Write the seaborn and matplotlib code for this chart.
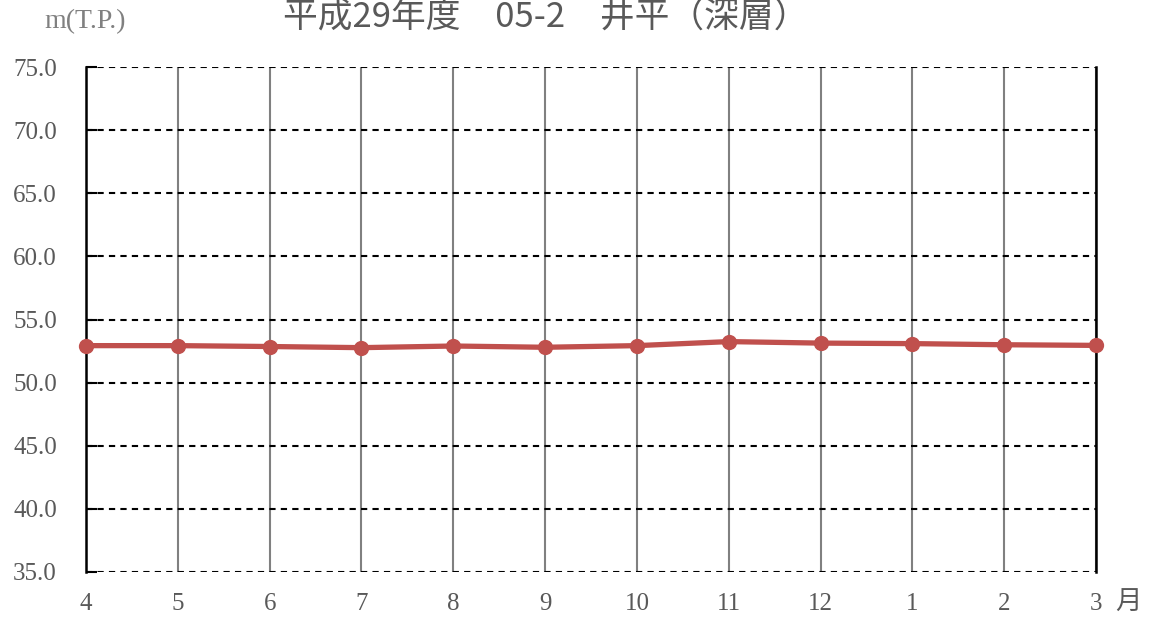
"""
平成29年度 地下水位（深層） 月別推移
"""
import matplotlib
matplotlib.use("Agg")
import matplotlib.pyplot as plt
import pandas as pd
import seaborn as sns

months = ["4", "5", "6", "7", "8", "9", "10", "11", "12", "1", "2", "3"]
levels = [52.93, 52.93, 52.86, 52.77, 52.90, 52.80, 52.93, 53.25, 53.13, 53.09, 53.00, 52.95]
y_ticks = [35.0, 40.0, 45.0, 50.0, 55.0, 60.0, 65.0, 70.0, 75.0]
title = "平成29年度　05-2　井平（深層）"

sns.set_style("white")
plt.rcParams["font.family"] = ["Liberation Serif", "Noto Sans CJK JP", "DejaVu Sans"]

df = pd.DataFrame({"pos": range(len(months)), "level": levels})

fig = plt.figure(figsize=(11.5, 6.19), dpi=100)
ax = fig.add_axes([86 / 1150, 47 / 619, 1010 / 1150, 505 / 619])

sns.lineplot(data=df, x="pos", y="level", ax=ax, color="#C0504D", linewidth=3.8,
             marker="o", markersize=11, markeredgewidth=0, zorder=5, clip_on=False)

ax.set_xlim(0, len(months) - 1)
ax.set_ylim(35, 75)
ax.set_xticks(df["pos"])
ax.set_xticklabels(months)
ax.set_yticks(y_ticks)
ax.set_yticklabels([f"{v:.1f}" for v in y_ticks])
ax.set_xlabel("")
ax.set_ylabel("")

# gridlines: solid grey verticals, dashed black horizontals
for p in df["pos"]:
    ax.axvline(p, color="#808080", linewidth=1.5, zorder=1)
for v in y_ticks:
    ax.axhline(v, color="black", linewidth=1.5, linestyle=(0, (3, 2.5)), zorder=2)

for side in ["left", "right"]:
    ax.spines[side].set_color("black")
    ax.spines[side].set_linewidth(1.8)
    ax.spines[side].set_zorder(3)
ax.spines["top"].set_visible(False)
ax.spines["bottom"].set_visible(False)

ax.tick_params(axis="y", direction="in", length=8, width=1.5, color="black",
               labelsize=18, labelcolor="#595959", pad=21, left=True)
ax.tick_params(axis="x", length=0, labelsize=18, labelcolor="#595959", pad=15)

fig.text(85 / 1150, 1 - 22 / 619, "m(T.P.)", ha="center", va="center",
         fontsize=20, color="#808080")
fig.text(1128 / 1150, 1 - 602 / 619, "月", ha="center", va="center",
         fontsize=19, color="#595959", family=["Noto Sans CJK JP", "DejaVu Sans"])
fig.text(546 / 1150, 1 - 1 / 619, title, ha="center", va="top",
         fontsize=25, color="#595959", family=["Noto Sans CJK JP", "DejaVu Sans"])

fig.savefig("out.png", dpi=100)
plt.close(fig)
